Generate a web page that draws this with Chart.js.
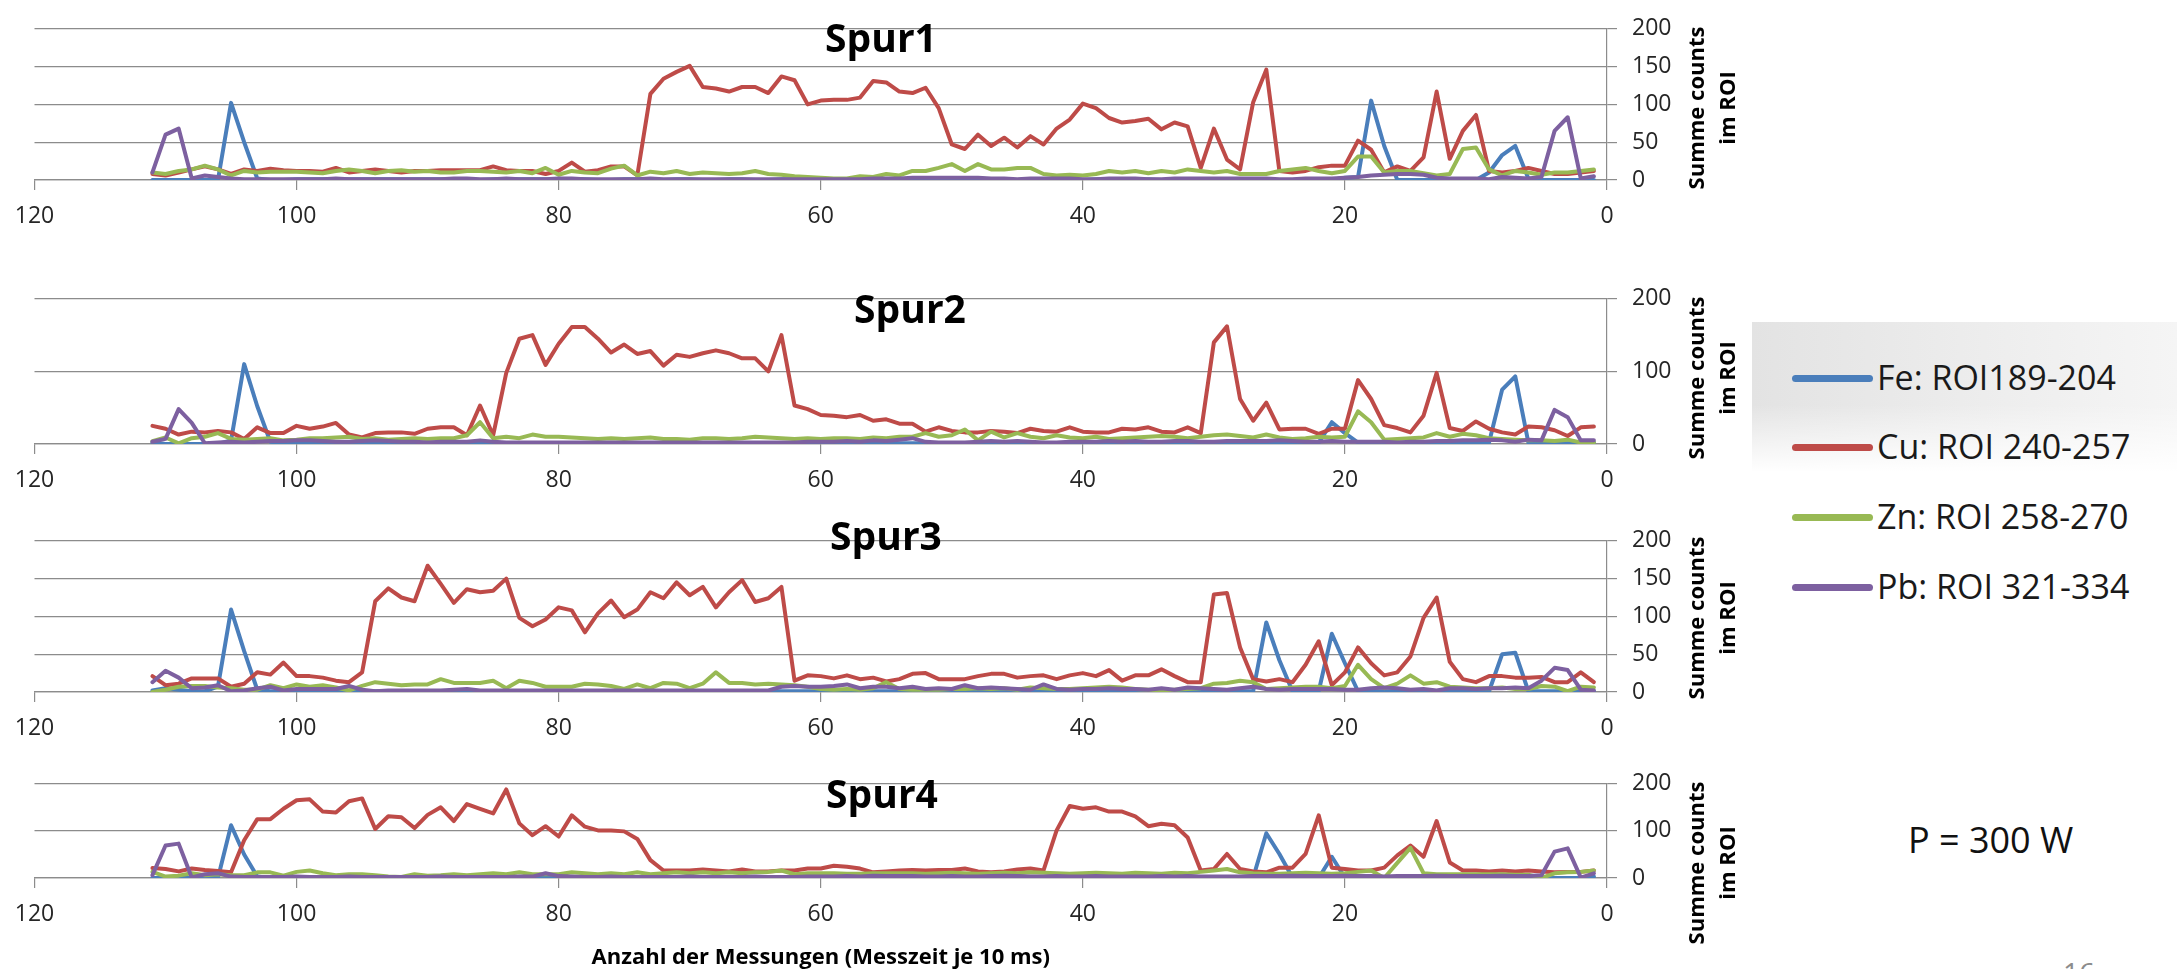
<!DOCTYPE html>
<html lang="de">
<head>
<meta charset="utf-8">
<title>Spur1–Spur4, P = 300 W</title>
<script src="https://cdn.jsdelivr.net/npm/chart.js"></script>
<style>
  html, body { margin: 0; padding: 0; background: #fff; }
  body { width: 2177px; height: 969px; position: relative; overflow: hidden; font-family: "Open Sans", sans-serif; }
  .panel { position: absolute; left: 0; }
  .panel canvas { display: block; }
  .legend-bg {
    position: absolute; left: 1752px; top: 322px; width: 425px; height: 150px;
    background: linear-gradient(to bottom, rgba(255,255,255,0) 55%, #fff 100%),
                linear-gradient(to right, #e3e3e3, #eeeeee 60%, #f5f5f5);
  }
  .legend-item { position: absolute; left: 1792px; height: 0; }
  .legend-item .strich { position: absolute; left: 0; top: -3.5px; width: 81px; height: 7px; border-radius: 4px; }
  .legend-item .text { position: absolute; left: 85px; top: -24px; font-size: 34px; line-height: 46px; color: #1a1a1a; white-space: nowrap; }
  .leistung { position: absolute; left: 1908px; top: 815px; font-size: 36px; line-height: 50px; color: #111; white-space: nowrap; }
  .seite { position: absolute; left: 2063px; top: 953px; font-size: 28px; line-height: 38px; color: #8c8c8c; }
</style>
</head>
<body>
<div class="panel" id="p1"><canvas id="spur1"></canvas></div>
<div class="panel" id="p2"><canvas id="spur2"></canvas></div>
<div class="panel" id="p3"><canvas id="spur3"></canvas></div>
<div class="panel" id="p4"><canvas id="spur4"></canvas></div>
<div class="legend-bg"></div>
<div id="legende"></div>
<div class="leistung">P = 300 W</div>
<div class="seite">16</div>

<script>
// Messungen 111 ... 1 (links nach rechts, x-Achse läuft von 120 nach 0)
const messungen = Array.from({ length: 111 }, (_, i) => 111 - i);

const elementNamen = ["Fe: ROI189-204", "Cu: ROI 240-257", "Zn: ROI 258-270", "Pb: ROI 321-334"];
const farben = ["#4A7EBB", "#BE4B48", "#98B954", "#7D60A0"];
const spurTitel = ["Spur1", "Spur2", "Spur3", "Spur4"];
const ySchritt = [50, 100, 50, 100];
const yTitel = ["Summe counts", "im ROI"];
const xTitel = "Anzahl der Messungen (Messzeit je 10 ms)";

// Spur1
const spur1Fe = [
  0, 0, 0, 0, 0, 0, 102, 50, 2, 0,
  0, 1, 1, 1, 1, 1, 1, 1, 1, 1,
  1, 1, 1, 1, 0, 0, 1, 1, 1, 1,
  1, 0, 1, 1, 0, 0, 1, 1, 0, 0,
  1, 1, 0, 0, 1, 1, 0, 0, 1, 1,
  0, 0, 1, 1, 0, 0, 1, 1, 0, 0,
  0, 0, 0, 1, 1, 0, 0, 1, 0, 0,
  0, 0, 1, 1, 0, 0, 1, 0, 0, 1,
  1, 0, 0, 1, 1, 0, 0, 0, 1, 1,
  0, 3, 4, 105, 45, 0, 0, 0, 0, 0,
  0, 0, 10, 33, 45, 2, 0, 0, 0, 0,
  0
];
const spur1Cu = [
  8, 6, 10, 14, 18, 14, 8, 14, 12, 15,
  13, 12, 12, 11, 16, 10, 12, 14, 12, 10,
  12, 12, 13, 13, 13, 13, 18, 13, 12, 12,
  8, 12, 23, 11, 13, 18, 18, 6, 114, 134,
  143, 151, 123, 121, 117, 123, 123, 115, 137, 132,
  100, 105, 106, 106, 109, 131, 129, 117, 115, 122,
  95, 47, 41, 60, 45, 56, 43, 58, 47, 68,
  80, 101, 95, 82, 76, 78, 81, 67, 76, 71,
  16, 68, 27, 14, 103, 146, 12, 10, 12, 17,
  19, 19, 52, 40, 10, 18, 12, 30, 117, 28,
  65, 86, 12, 10, 12, 16, 12, 8, 8, 10,
  12
];
const spur1Zn = [
  10, 8, 12, 14, 19, 14, 6, 12, 10, 11,
  11, 11, 10, 9, 12, 14, 12, 9, 12, 13,
  11, 12, 10, 10, 12, 12, 11, 10, 12, 9,
  16, 7, 12, 10, 9, 15, 19, 6, 11, 9,
  12, 8, 10, 9, 8, 9, 12, 8, 7, 5,
  4, 3, 2, 2, 5, 4, 8, 6, 12, 12,
  16, 21, 12, 21, 14, 14, 16, 16, 8, 6,
  7, 6, 8, 12, 10, 12, 9, 12, 10, 14,
  12, 10, 12, 8, 8, 8, 12, 14, 16, 12,
  9, 12, 31, 31, 10, 12, 12, 9, 6, 8,
  41, 43, 14, 6, 12, 10, 7, 10, 10, 12,
  14
];
const spur1Pb = [
  10, 60, 68, 2, 6, 4, 2, 1, 1, 1,
  1, 1, 1, 1, 2, 1, 1, 1, 1, 1,
  1, 1, 1, 2, 2, 1, 1, 2, 1, 1,
  1, 2, 2, 1, 1, 1, 1, 1, 2, 1,
  1, 1, 1, 1, 1, 1, 1, 1, 1, 1,
  1, 1, 1, 1, 1, 2, 2, 2, 3, 3,
  3, 3, 3, 3, 2, 2, 1, 2, 2, 2,
  2, 1, 1, 2, 2, 2, 1, 1, 2, 2,
  2, 2, 2, 2, 2, 2, 1, 1, 2, 2,
  2, 3, 4, 6, 7, 8, 8, 7, 3, 2,
  2, 2, 1, 4, 3, 2, 4, 65, 83, 2,
  5
];

// Spur2
const spur2Fe = [
  2, 0, 0, 0, 0, 0, 5, 110, 52, 3,
  1, 1, 1, 1, 2, 1, 1, 1, 1, 1,
  1, 1, 1, 1, 1, 1, 1, 1, 1, 1,
  1, 1, 1, 1, 1, 1, 1, 1, 1, 1,
  1, 1, 1, 1, 1, 1, 1, 1, 1, 1,
  2, 1, 1, 2, 1, 1, 2, 1, 1, 1,
  1, 1, 1, 1, 1, 1, 1, 1, 1, 1,
  1, 1, 1, 1, 1, 1, 1, 1, 1, 1,
  1, 1, 1, 1, 1, 1, 1, 1, 1, 2,
  30, 15, 2, 1, 1, 1, 1, 1, 1, 1,
  1, 1, 2, 75, 93, 2, 1, 1, 1, 1,
  2
];
const spur2Cu = [
  25, 21, 13, 17, 16, 18, 16, 7, 23, 15,
  15, 25, 21, 24, 29, 13, 9, 15, 16, 16,
  14, 21, 23, 23, 12, 53, 12, 98, 145, 150,
  109, 138, 161, 161, 145, 126, 137, 124, 128, 108,
  123, 120, 125, 129, 125, 118, 118, 100, 150, 53,
  48, 40, 39, 37, 40, 32, 34, 28, 28, 17,
  23, 18, 16, 16, 18, 17, 15, 21, 18, 17,
  23, 17, 16, 16, 21, 20, 23, 17, 16, 23,
  15, 140, 162, 62, 32, 57, 20, 21, 21, 14,
  21, 21, 88, 62, 26, 22, 16, 39, 98, 22,
  18, 31, 21, 16, 13, 24, 23, 19, 11, 23,
  24
];
const spur2Zn = [
  4, 9, 1, 8, 10, 15, 7, 6, 7, 8,
  5, 6, 8, 8, 9, 10, 7, 8, 6, 7,
  8, 7, 8, 8, 12, 30, 8, 10, 8, 13,
  10, 10, 9, 8, 7, 8, 7, 8, 9, 7,
  7, 6, 8, 8, 7, 8, 10, 9, 8, 7,
  8, 7, 8, 8, 7, 9, 8, 10, 10, 15,
  10, 12, 20, 5, 17, 9, 15, 10, 8, 12,
  9, 8, 10, 7, 8, 9, 10, 11, 10, 8,
  10, 12, 13, 11, 9, 13, 9, 7, 8, 10,
  9, 10, 45, 30, 6, 7, 8, 9, 15, 10,
  14, 12, 8, 7, 6, 5, 5, 4, 6, 2,
  2
];
const spur2Pb = [
  3, 7, 48, 29, 1, 2, 3, 2, 3, 4,
  4, 5, 5, 4, 3, 3, 4, 5, 4, 3,
  3, 2, 3, 3, 3, 5, 3, 2, 2, 2,
  2, 2, 2, 2, 2, 2, 2, 2, 2, 2,
  2, 2, 2, 2, 2, 2, 2, 2, 2, 2,
  3, 3, 3, 4, 3, 5, 4, 6, 8, 3,
  2, 2, 2, 3, 4, 3, 4, 3, 2, 2,
  3, 3, 3, 4, 3, 4, 3, 3, 4, 4,
  3, 3, 4, 4, 4, 4, 5, 4, 3, 3,
  4, 3, 3, 3, 3, 2, 3, 3, 4, 4,
  5, 5, 6, 5, 3, 6, 5, 47, 37, 5,
  5
];

// Spur3
const spur3Fe = [
  2, 5, 3, 1, 1, 7, 109, 54, 3, 1,
  1, 1, 1, 1, 1, 1, 1, 1, 1, 1,
  1, 1, 1, 1, 1, 1, 1, 1, 1, 1,
  1, 1, 1, 1, 1, 1, 1, 1, 1, 1,
  1, 1, 1, 1, 1, 1, 1, 1, 1, 1,
  1, 1, 1, 1, 1, 1, 1, 1, 1, 1,
  1, 1, 1, 1, 1, 1, 1, 1, 1, 1,
  1, 1, 1, 1, 1, 1, 1, 1, 1, 1,
  1, 1, 1, 1, 1, 92, 42, 1, 1, 1,
  77, 38, 1, 1, 1, 1, 1, 1, 1, 1,
  1, 1, 1, 50, 52, 1, 1, 1, 1, 1,
  1
];
const spur3Cu = [
  21, 9, 11, 18, 18, 18, 7, 11, 26, 23,
  39, 21, 21, 19, 15, 13, 26, 120, 137, 125,
  120, 167, 143, 118, 136, 132, 134, 150, 98, 87,
  96, 112, 108, 79, 104, 121, 99, 109, 132, 124,
  145, 128, 139, 112, 132, 148, 119, 124, 139, 15,
  22, 21, 18, 22, 17, 19, 14, 17, 24, 25,
  17, 17, 17, 21, 24, 24, 19, 21, 22, 17,
  22, 25, 21, 29, 15, 22, 22, 30, 21, 13,
  13, 129, 131, 59, 17, 14, 17, 13, 36, 67,
  9, 26, 59, 38, 22, 26, 47, 98, 125, 40,
  17, 13, 21, 21, 19, 19, 20, 13, 13, 26,
  13
];
const spur3Zn = [
  0, 3, 7, 8, 8, 6, 5, 3, 3, 9,
  5, 10, 7, 9, 6, 2, 8, 13, 11, 9,
  10, 10, 17, 12, 12, 12, 15, 5, 15, 12,
  7, 7, 7, 11, 10, 8, 4, 10, 5, 12,
  11, 5, 11, 26, 12, 12, 10, 11, 10, 9,
  7, 4, 3, 4, 3, 5, 13, 4, 3, 3,
  3, 4, 4, 5, 4, 5, 3, 6, 5, 4,
  4, 5, 6, 7, 6, 4, 3, 2, 3, 4,
  5, 11, 12, 15, 13, 4, 5, 6, 7, 7,
  5, 8, 36, 17, 5, 11, 22, 11, 13, 7,
  6, 5, 5, 6, 4, 4, 8, 7, 1, 7,
  6
];
const spur3Pb = [
  13, 28, 19, 5, 6, 9, 1, 2, 5, 7,
  2, 4, 4, 4, 4, 8, 3, 1, 2, 2,
  2, 2, 2, 3, 4, 2, 2, 2, 2, 2,
  2, 2, 2, 2, 2, 2, 2, 2, 2, 2,
  2, 2, 2, 2, 2, 2, 2, 2, 7, 8,
  7, 7, 8, 10, 5, 7, 7, 5, 7, 4,
  5, 4, 9, 5, 6, 5, 4, 3, 10, 4,
  3, 4, 4, 5, 4, 4, 3, 5, 3, 6,
  5, 4, 3, 5, 7, 4, 3, 4, 4, 4,
  4, 3, 3, 5, 6, 5, 3, 4, 2, 5,
  5, 4, 5, 5, 6, 5, 15, 32, 29, 3,
  2
];

// Spur4
const spur4Fe = [
  0, 0, 0, 0, 0, 0, 112, 50, 3, 0,
  0, 0, 0, 0, 0, 0, 0, 0, 0, 0,
  0, 0, 0, 0, 0, 0, 0, 0, 0, 0,
  0, 0, 0, 0, 0, 0, 0, 0, 0, 0,
  0, 0, 0, 0, 0, 0, 0, 0, 0, 0,
  0, 0, 0, 0, 0, 0, 0, 0, 0, 0,
  0, 0, 0, 0, 0, 0, 0, 0, 0, 0,
  0, 0, 0, 0, 0, 0, 0, 0, 0, 0,
  0, 0, 0, 0, 1, 95, 51, 1, 0, 0,
  45, 1, 0, 0, 0, 0, 0, 0, 0, 0,
  0, 0, 0, 0, 0, 0, 0, 0, 0, 0,
  3
];
const spur4Cu = [
  21, 19, 14, 20, 17, 15, 12, 80, 125, 125,
  147, 165, 167, 141, 139, 163, 169, 104, 131, 129,
  106, 134, 150, 121, 157, 147, 137, 188, 116, 91,
  110, 88, 133, 109, 101, 101, 99, 83, 38, 16,
  16, 16, 18, 16, 14, 18, 14, 14, 16, 16,
  20, 20, 26, 24, 20, 12, 14, 16, 17, 16,
  17, 17, 20, 14, 12, 14, 18, 20, 16, 101,
  153, 147, 150, 141, 141, 131, 110, 115, 112, 86,
  16, 19, 51, 19, 14, 12, 22, 22, 51, 133,
  22, 19, 16, 16, 22, 48, 69, 45, 121, 33,
  16, 16, 14, 16, 14, 16, 14, 12, 13, 13,
  16
];
const spur4Zn = [
  13, 3, 5, 10, 6, 8, 6, 6, 12, 12,
  5, 13, 16, 10, 6, 8, 8, 6, 3, 2,
  8, 5, 6, 8, 6, 8, 10, 8, 12, 8,
  8, 8, 12, 10, 8, 10, 8, 12, 8, 10,
  12, 10, 12, 10, 12, 10, 12, 13, 16, 8,
  10, 10, 10, 9, 9, 10, 10, 10, 10, 9,
  10, 11, 10, 9, 10, 11, 10, 12, 11, 10,
  9, 10, 11, 10, 9, 11, 10, 9, 11, 10,
  13, 16, 19, 12, 10, 9, 9, 10, 11, 10,
  9, 10, 13, 16, 0, 32, 64, 10, 8, 8,
  8, 8, 8, 8, 7, 7, 0, 10, 12, 13,
  16
];
const spur4Pb = [
  6, 69, 73, 1, 8, 10, 3, 2, 2, 2,
  2, 3, 2, 2, 2, 3, 2, 2, 2, 2,
  2, 2, 3, 2, 2, 2, 2, 2, 3, 3,
  10, 4, 3, 2, 2, 3, 2, 2, 2, 2,
  2, 3, 2, 2, 2, 2, 3, 2, 2, 2,
  3, 3, 3, 4, 3, 5, 4, 4, 4, 3,
  3, 4, 3, 3, 4, 5, 4, 3, 3, 4,
  3, 3, 4, 3, 3, 3, 3, 4, 3, 4,
  3, 3, 3, 3, 4, 4, 4, 5, 4, 4,
  4, 5, 4, 4, 3, 4, 4, 4, 5, 4,
  4, 4, 4, 5, 4, 4, 6, 56, 63, 1,
  10
];

const spurReihen = [
  [spur1Fe, spur1Cu, spur1Zn, spur1Pb],
  [spur2Fe, spur2Cu, spur2Zn, spur2Pb],
  [spur3Fe, spur3Cu, spur3Zn, spur3Pb],
  [spur4Fe, spur4Cu, spur4Zn, spur4Pb],
];

// Lage der vier Diagramme auf der Folie (Pixel)
const CANVAS_W = 1760;
const PLOT_RIGHT = 1607;
const PAD_TOP = 19;
const panels = [
  { id: "p1", top: 0,   plotH: 161, axisH: 60, titleX: 881, titleY: 41,  yTitleY: 108 },
  { id: "p2", top: 270, plotH: 155, axisH: 60, titleX: 910, titleY: 312, yTitleY: 378 },
  { id: "p3", top: 512, plotH: 161, axisH: 60, titleX: 886, titleY: 539, yTitleY: 618 },
  { id: "p4", top: 755, plotH: 104, axisH: 91, titleX: 882, titleY: 797, yTitleY: 863 },
];

const gridFarbe = "#8c8c8c";
const textFarbe = "#262626";

Chart.defaults.font.family = '"Open Sans", sans-serif';

// Diagrammtitel und gedrehter Achsentitel rechts
const panelText = {
  id: "panelText",
  afterDraw(chart, args, opts) {
    const ctx = chart.ctx;
    ctx.save();
    ctx.fillStyle = "#000";
    ctx.textAlign = "center";
    ctx.textBaseline = "middle";
    ctx.font = 'bold 39px "Open Sans"';
    ctx.fillText(opts.title, opts.titleX, opts.titleY);
    ctx.translate(opts.axisX, opts.axisY);
    ctx.rotate(-Math.PI / 2);
    ctx.font = 'bold 22px "Open Sans"';
    yTitel.forEach((zeile, i) => ctx.fillText(zeile, 0, i * 31));
    ctx.restore();
  },
};

panels.forEach((p, idx) => {
  const wrap = document.getElementById(p.id);
  wrap.style.top = p.top + "px";
  const canvas = wrap.querySelector("canvas");
  canvas.width = CANVAS_W;
  canvas.height = PAD_TOP + p.plotH + p.axisH;

  new Chart(canvas.getContext("2d"), {
    type: "line",
    data: {
      datasets: spurReihen[idx].map((werte, i) => ({
        label: elementNamen[i],
        data: werte.map((v, k) => ({ x: messungen[k], y: v })),
        borderColor: farben[i],
        backgroundColor: farben[i],
        borderWidth: 4,
        pointRadius: 0,
        tension: 0,
        borderJoinStyle: "round",
        borderCapStyle: "round",
        order: 4 - i,
      })),
    },
    options: {
      responsive: false,
      animation: false,
      events: [],
      layout: { padding: { left: 34.5, top: PAD_TOP, right: 0, bottom: 0 } },
      plugins: {
        legend: { display: false },
        tooltip: { enabled: false },
        panelText: {
          title: spurTitel[idx],
          titleX: p.titleX,
          titleY: p.titleY - p.top,
          axisX: 1698,
          axisY: p.yTitleY - p.top,
        },
      },
      scales: {
        x: {
          type: "linear",
          reverse: true,
          min: 0,
          max: 120,
          ticks: { stepSize: 20, padding: 13, maxRotation: 0, color: textFarbe, font: { size: 23 } },
          grid: { drawOnChartArea: false, drawTicks: true, tickLength: 10, color: gridFarbe, lineWidth: 1.2 },
          border: { display: true, color: gridFarbe, width: 1.2 },
          title: {
            display: idx === 3,
            text: xTitel,
            color: "#000",
            font: { size: 22, weight: "bold" },
            padding: { top: 0, bottom: -2 },
          },
          afterFit: (s) => { s.height = p.axisH; },
        },
        y: {
          position: "right",
          min: 0,
          max: 200,
          ticks: { stepSize: ySchritt[idx], padding: 15, color: textFarbe, font: { size: 23 } },
          grid: { color: gridFarbe, lineWidth: 1.2, tickLength: 10 },
          border: { display: true, color: gridFarbe, width: 1.2 },
          afterFit: (s) => { s.width = CANVAS_W - PLOT_RIGHT; },
        },
      },
    },
    plugins: [panelText],
  });
});

// Legende rechts
const legendeY = [378, 447, 517, 587];
const legende = document.getElementById("legende");
elementNamen.forEach((name, i) => {
  const item = document.createElement("div");
  item.className = "legend-item";
  item.style.top = legendeY[i] + "px";
  item.innerHTML = '<div class="strich" style="background:' + farben[i] + '"></div><div class="text">' + name + "</div>";
  legende.appendChild(item);
});
</script>
</body>
</html>
